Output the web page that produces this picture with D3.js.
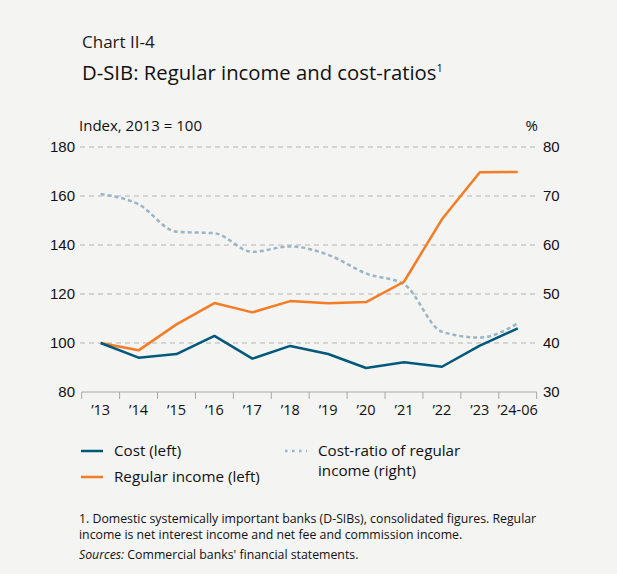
<!DOCTYPE html>
<html>
<head>
<meta charset="utf-8">
<script src="https://cdn.jsdelivr.net/npm/d3@7"></script>
<style>
  html, body { margin: 0; padding: 0; background: #f4f4f2; }
  svg { display: block; font-family: "Open Sans", "Noto Sans", sans-serif; }
</style>
</head>
<body>
<svg id="chart" width="617" height="574"></svg>
<script>
// Years on the category axis
const categories = ["\u201913", "\u201914", "\u201915", "\u201916", "\u201917", "\u201918", "\u201919", "\u201920", "\u201921", "\u201922", "\u201923", "\u201924-06"];
// Index, 2013 = 100 (left axis)
const cost = [100, 94.0, 95.5, 102.9, 93.6, 98.8, 95.5, 89.8, 92.1, 90.3, 98.9, 106.0];
const regularIncome = [100, 97.0, 107.6, 116.3, 112.5, 117.1, 116.2, 116.7, 125.0, 150.5, 169.7, 169.8];
// Per cent (right axis)
const costRatio = [70.4, 68.3, 62.7, 62.4, 58.6, 59.7, 58.0, 54.2, 52.0, 42.3, 41.1, 44.0];
const leftTicks = [80, 100, 120, 140, 160, 180];
const rightTicks = [30, 40, 50, 60, 70, 80];

const svg = d3.select("#chart");
const m = { left: 81.7, right: 536.7, top: 147, bottom: 392 };

const x = d3.scaleBand().domain(categories).range([m.left, m.right]);
const yL = d3.scaleLinear().domain([80, 180]).range([m.bottom, m.top]);
const yR = d3.scaleLinear().domain([30, 80]).range([m.bottom, m.top]);
const cx = c => x(c) + x.bandwidth() / 2;

const colCost = "#00587a", colIncome = "#f47c24", colRatio = "#9ab5c6";

// Headings
svg.append("text").attr("x", 82).attr("y", 48).attr("font-size", 17).attr("fill", "#1a1a1a").text("Chart II-4");
const title = svg.append("text").attr("x", 82).attr("y", 80).attr("font-size", 20.3).attr("fill", "#111");
title.append("tspan").text("D-SIB: Regular income and cost-ratios");
title.append("tspan").attr("font-size", 11).attr("dy", -8).text("1");

// Axis unit labels
svg.append("text").attr("x", 79).attr("y", 131).attr("font-size", 15).attr("fill", "#111").text("Index, 2013 = 100");
svg.append("text").attr("x", 538).attr("y", 131).attr("font-size", 15).attr("text-anchor", "end").attr("fill", "#111").text("%");

// Dashed gridlines at the left axis ticks (except the baseline)
svg.append("g").selectAll("line").data(leftTicks.slice(1)).join("line")
  .attr("x1", 80).attr("x2", 538)
  .attr("y1", d => yL(d)).attr("y2", d => yL(d))
  .attr("stroke", "#b5b5b5").attr("stroke-width", 1).attr("stroke-dasharray", "5,4");

// Left axis labels
const leftAxis = d3.axisLeft(yL).tickValues(leftTicks).tickSize(0).tickPadding(0);
const gL = svg.append("g").attr("transform", "translate(75,0)").call(leftAxis);
gL.select(".domain").remove();
gL.selectAll("text").attr("font-size", 15).attr("fill", "#111").attr("font-family", null);

// Right axis labels
const rightAxis = d3.axisRight(yR).tickValues(rightTicks).tickSize(0).tickPadding(0);
const gR = svg.append("g").attr("transform", "translate(543,0)").call(rightAxis);
gR.select(".domain").remove();
gR.selectAll("text").attr("font-size", 15).attr("fill", "#111").attr("font-family", null);

// Bottom category axis with ticks at band boundaries
svg.append("line").attr("x1", m.left).attr("x2", m.right).attr("y1", m.bottom).attr("y2", m.bottom)
  .attr("stroke", "#a8a8a8").attr("stroke-width", 1);
const bounds = categories.map(c => x(c)).concat([m.right]);
svg.append("g").selectAll("line").data(bounds).join("line")
  .attr("x1", d => d).attr("x2", d => d).attr("y1", m.bottom).attr("y2", m.bottom + 7)
  .attr("stroke", "#a8a8a8").attr("stroke-width", 1);
svg.append("g").selectAll("text").data(categories).join("text")
  .attr("x", d => cx(d)).attr("y", 415).attr("text-anchor", "middle")
  .attr("font-size", 14.5).attr("fill", "#111").text(d => d);

// Series lines
const lineL = d3.line().x((d, i) => cx(categories[i])).y(d => yL(d));
const lineR = d3.line().x((d, i) => cx(categories[i])).y(d => yR(d)).curve(d3.curveMonotoneX);

svg.append("path").datum(costRatio).attr("d", lineR).attr("fill", "none")
  .attr("stroke", colRatio).attr("stroke-width", 2.5).attr("stroke-dasharray", "4,3");
svg.append("path").datum(regularIncome).attr("d", lineL).attr("fill", "none")
  .attr("stroke", colIncome).attr("stroke-width", 2.5).attr("stroke-linejoin", "round");
svg.append("path").datum(cost).attr("d", lineL).attr("fill", "none")
  .attr("stroke", colCost).attr("stroke-width", 2.5).attr("stroke-linejoin", "round");

// Legend
const legend = [
  { x: 81, y: 451, color: colCost, dash: null, lines: ["Cost (left)"] },
  { x: 81, y: 477, color: colIncome, dash: null, lines: ["Regular income (left)"] },
  { x: 285, y: 451, color: colRatio, dash: "2.5,4.5", lines: ["Cost-ratio of regular", "income (right)"] }
];
legend.forEach(l => {
  svg.append("line").attr("x1", l.x).attr("x2", l.x + 22).attr("y1", l.y).attr("y2", l.y)
    .attr("stroke", l.color).attr("stroke-width", 2.5).attr("stroke-dasharray", l.dash);
  l.lines.forEach((t, i) => {
    svg.append("text").attr("x", l.x + 33).attr("y", l.y + 5 + i * 19.5)
      .attr("font-size", 15.2).attr("fill", "#111").text(t);
  });
});

// Footnotes
const fn = svg.append("g").attr("font-size", 12.3).attr("fill", "#111");
fn.append("text").attr("x", 79).attr("y", 523).text("1. Domestic systemically important banks (D-SIBs), consolidated figures. Regular");
fn.append("text").attr("x", 79).attr("y", 538.5).text("income is net interest income and net fee and commission income.");
const src = fn.append("text").attr("x", 79).attr("y", 559);
src.append("tspan").attr("font-style", "italic").text("Sources:");
src.append("tspan").text(" Commercial banks' financial statements.");
</script>
</body>
</html>
